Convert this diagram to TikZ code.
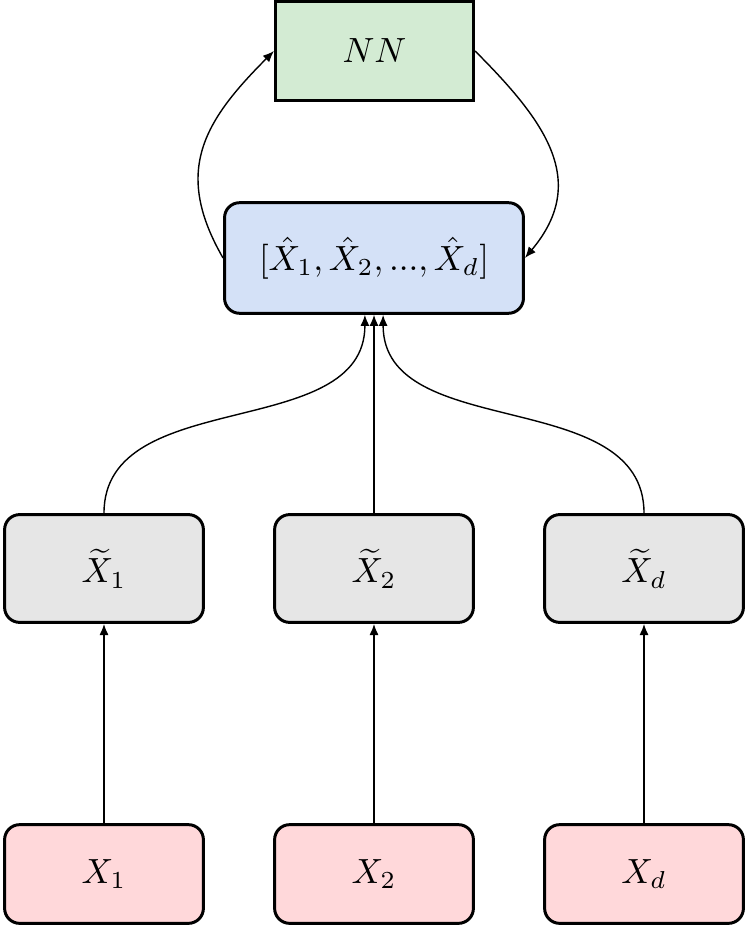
\documentclass[tikz,border=0pt]{standalone}
\usetikzlibrary{arrows.meta}
\definecolor{nngreen}{RGB}{211,235,211}
\definecolor{hatblue}{RGB}{212,225,247}
\definecolor{tilgray}{RGB}{230,230,230}
\definecolor{xpink}{RGB}{255,216,218}
\tikzset{
  box/.style={draw=black, line width=0.85pt, rounded corners=4.3pt, align=center, inner sep=0pt},
  smallbox/.style={box, minimum width=56.8pt},
  conn/.style={-{Latex[length=3.2pt,width=2.6pt]}, line width=0.4pt},
}
\begin{document}
\begin{tikzpicture}[x=0.2857pt, y=-0.2857pt]
\useasboundingbox (0,0) rectangle (747,926);
% NN
\node[draw=black, line width=0.85pt, fill=nngreen, minimum width=56.6pt, minimum height=28.2pt, inner sep=0pt] (nn) at (374.5,51) {$NN$};
% hat vector
\node[box, fill=hatblue, minimum width=85.4pt, minimum height=31.6pt] (hat) at (374,258) {$[\hat{X}_1, \hat{X}_2, ..., \hat{X}_d]$};
% tilde
\node[smallbox, fill=tilgray, minimum height=30.8pt] (t1) at (104,568.5) {$\widetilde{X}_1$};
\node[smallbox, fill=tilgray, minimum height=30.8pt] (t2) at (374,568.5) {$\widetilde{X}_2$};
\node[smallbox, fill=tilgray, minimum height=30.8pt] (td) at (644,568.5) {$\widetilde{X}_d$};
% inputs
\node[smallbox, fill=xpink, minimum height=28.2pt] (x1) at (104,874) {$X_1$};
\node[smallbox, fill=xpink, minimum height=28.2pt] (x2) at (374,874) {$X_2$};
\node[smallbox, fill=xpink, minimum height=28.2pt] (xd) at (644,874) {$X_d$};
% connectors
\draw[conn] (x1) -- (t1);
\draw[conn] (x2) -- (t2);
\draw[conn] (xd) -- (td);
\draw[conn] (t1.north) to[out=90, in=-90] ([xshift=-2.6pt]hat.south);
\draw[conn] (t2.north) -- (hat.south);
\draw[conn] (td.north) to[out=90, in=-90] ([xshift=2.6pt]hat.south);
\draw[conn] (hat.west) to[out=120, in=-135, looseness=1.2] (nn.west);
\draw[conn] (nn.east) to[out=-45, in=50, looseness=1.2] (hat.east);
\end{tikzpicture}
\end{document}
